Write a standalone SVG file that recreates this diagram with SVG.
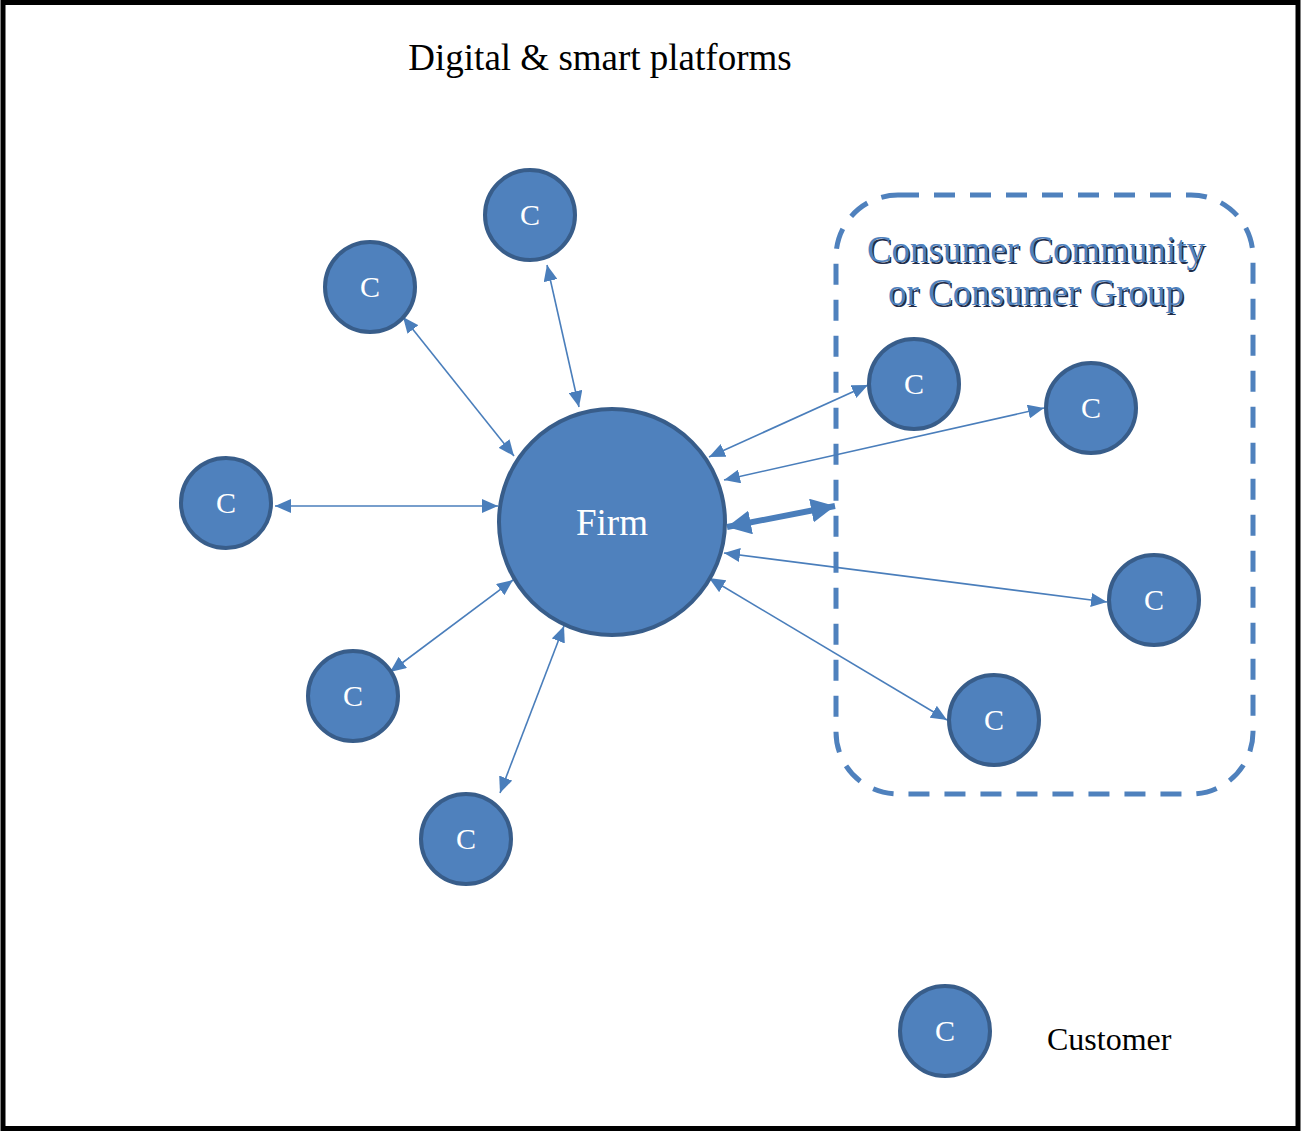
<svg xmlns="http://www.w3.org/2000/svg" width="1301" height="1131" viewBox="0 0 1301 1131">
  <style>
    .node circle { fill: #4F81BD; stroke: #385D8A; stroke-width: 4; }
    .node text { font-family: "Liberation Serif", "Times New Roman", serif; fill: #FFFFFF; text-anchor: middle; }
    .lbl { font-family: "Liberation Serif", "Times New Roman", serif; fill: #000000; }
    .link { stroke: #4A7EBB; stroke-width: 1.6; fill: none; marker-start: url(#tip); marker-end: url(#tip); }
    .bold { stroke: #4A7EBB; stroke-width: 6; fill: none; marker-start: url(#tipBig); marker-end: url(#tipBig); }
    .grp { font-family: "Liberation Serif", "Times New Roman", serif; font-size: 37px; text-anchor: middle; }
  </style>
  <defs>
    <marker id="tip" viewBox="0 0 16 14" refX="16" refY="7" markerWidth="16" markerHeight="14" markerUnits="userSpaceOnUse" orient="auto-start-reverse">
      <path d="M0,0 L16,7 L0,14 Z" fill="#4A7EBB"/>
    </marker>
    <marker id="tipBig" viewBox="0 0 24 24" refX="24" refY="12" markerWidth="24" markerHeight="24" markerUnits="userSpaceOnUse" orient="auto-start-reverse">
      <path d="M0,0 L24,12 L0,24 Z" fill="#4A7EBB"/>
    </marker>
  </defs>

  <!-- outer frame -->
  <rect x="3" y="2.5" width="1295" height="1126" fill="#FFFFFF" stroke="#000000" stroke-width="5"/>

  <text class="lbl" x="600" y="70" font-size="37" text-anchor="middle">Digital &amp; smart platforms</text>

  <!-- community boundary -->
  <g id="community">
    <rect x="836" y="195" width="417" height="599" rx="62" ry="62" fill="none" stroke="#4F81BD" stroke-width="5" stroke-dasharray="21 15"/>
    <g class="grp">
      <text x="1037.5" y="263.5" fill="#1F2D4A">Consumer Community</text>
      <text x="1037.5" y="306.5" fill="#1F2D4A">or Consumer Group</text>
      <text x="1036" y="262" fill="#4F81BD">Consumer Community</text>
      <text x="1036" y="305" fill="#4F81BD">or Consumer Group</text>
    </g>
  </g>

  <!-- connectors -->
  <g id="connectors">
    <line class="link" x1="547" y1="265" x2="579" y2="407"/>
    <line class="link" x1="403" y1="317" x2="514" y2="456"/>
    <line class="link" x1="275" y1="506" x2="498" y2="506"/>
    <line class="link" x1="390" y1="672" x2="513" y2="580"/>
    <line class="link" x1="500" y1="793" x2="564" y2="626"/>
    <line class="link" x1="868" y1="385" x2="709" y2="457"/>
    <line class="link" x1="1044" y1="408" x2="724" y2="480"/>
    <line class="bold" x1="727" y1="527" x2="835" y2="506"/>
    <line class="link" x1="1107" y1="602" x2="724" y2="553"/>
    <line class="link" x1="947" y1="720" x2="709" y2="578"/>
  </g>

  <!-- hub -->
  <g id="firm" class="node">
    <circle cx="612" cy="522" r="113"/>
    <text x="612" y="535" font-size="37">Firm</text>
  </g>

  <!-- customers -->
  <g id="c1" class="node"><circle cx="530" cy="215" r="45"/><text x="530" y="225" font-size="30">C</text></g>
  <g id="c2" class="node"><circle cx="370" cy="287" r="45"/><text x="370" y="297" font-size="30">C</text></g>
  <g id="c3" class="node"><circle cx="226" cy="503" r="45"/><text x="226" y="513" font-size="30">C</text></g>
  <g id="c4" class="node"><circle cx="353" cy="696" r="45"/><text x="353" y="706" font-size="30">C</text></g>
  <g id="c5" class="node"><circle cx="466" cy="839" r="45"/><text x="466" y="849" font-size="30">C</text></g>
  <g id="c6" class="node"><circle cx="914" cy="384" r="45"/><text x="914" y="394" font-size="30">C</text></g>
  <g id="c7" class="node"><circle cx="1091" cy="408" r="45"/><text x="1091" y="418" font-size="30">C</text></g>
  <g id="c8" class="node"><circle cx="1154" cy="600" r="45"/><text x="1154" y="610" font-size="30">C</text></g>
  <g id="c9" class="node"><circle cx="994" cy="720" r="45"/><text x="994" y="730" font-size="30">C</text></g>

  <!-- legend -->
  <g id="legend">
    <g class="node"><circle cx="945" cy="1031" r="45"/><text x="945" y="1041" font-size="30">C</text></g>
    <text class="lbl" x="1047" y="1050" font-size="32">Customer</text>
  </g>
</svg>
